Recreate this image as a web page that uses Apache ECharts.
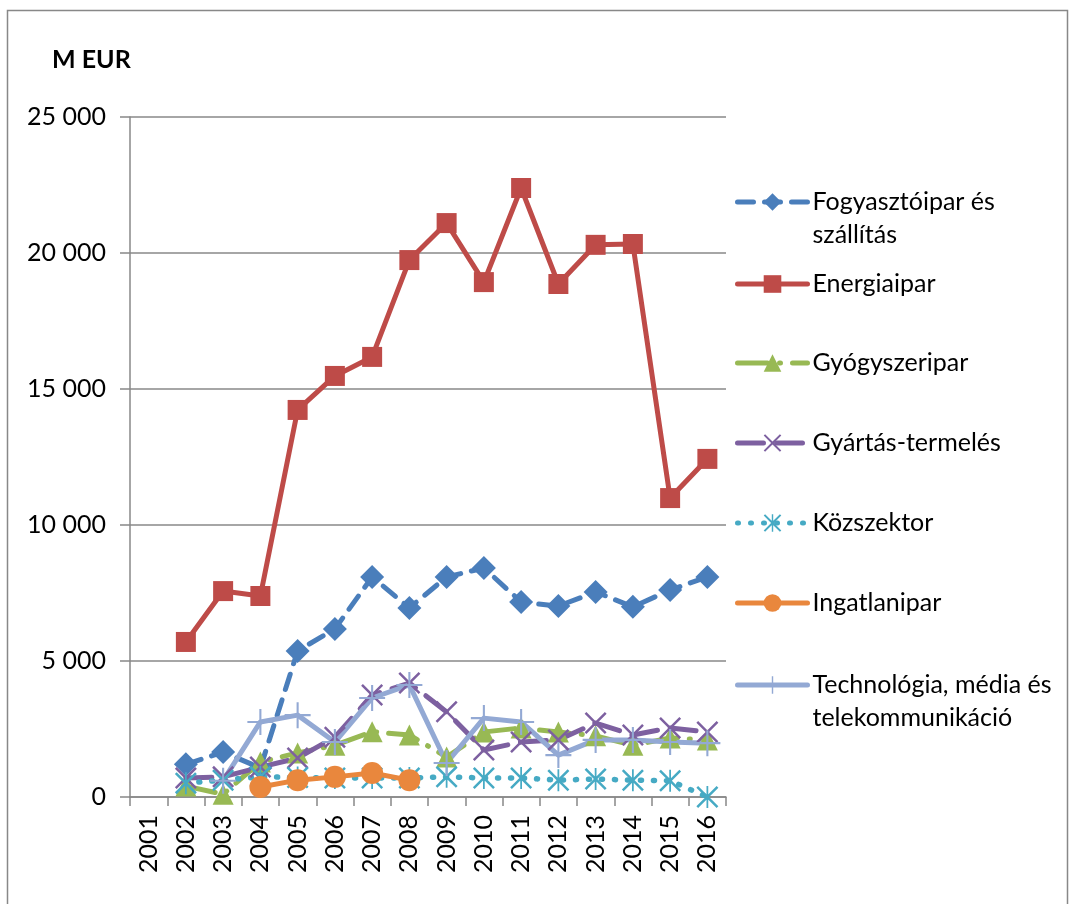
<!DOCTYPE html>
<html>
<head>
<meta charset="utf-8">
<script src="https://cdn.jsdelivr.net/npm/echarts@6/dist/echarts.min.js"></script>
<style>
  html, body { margin: 0; padding: 0; background: #fff; }
  #chart { width: 1071px; height: 904px; }
</style>
</head>
<body>
<div id="chart"></div>
<script>
// evek
var years = ["2001", "2002", "2003", "2004", "2005", "2006", "2007", "2008",
  "2009", "2010", "2011", "2012", "2013", "2014", "2015", "2016"];

var fogyasztoipar = [null, 1200, 1650, 1070, 5370, 6180, 8090, 6950, 8090, 8420, 7170, 7020, 7540, 6990, 7610, 8090];
var energiaipar = [null, 5700, 7570, 7390, 14230, 15480, 16180, 19740, 21100, 18930, 22390, 18860, 20300, 20330, 10990, 12430];
var gyogyszeripar = [null, 400, 100, 1290, 1620, 1900, 2400, 2280, 1470, 2390, 2540, 2390, 2250, 1900, 2170, 2100];
var gyartas = [null, 700, 740, 1100, 1430, 2200, 3750, 4190, 3130, 1730, 2020, 2100, 2720, 2280, 2540, 2390];
var kozszektor = [null, 510, 620, 740, 720, 700, 700, 700, 740, 700, 700, 620, 660, 620, 600, 0];
var ingatlanipar = [null, null, null, 370, 620, 740, 880, 620, null, null, null, null, null, null, null, null];
var technologia = [null, null, 600, 2760, 3010, 2020, 3640, 4120, 1250, 2900, 2760, 1540, 2100, 2100, 2020, 1980];

var yTicks = [0, 5000, 10000, 15000, 20000, 25000];

var seriesNames = ["Fogyasztóipar és szállítás", "Energiaipar", "Gyógyszeripar",
  "Gyártás-termelés", "Közszektor", "Ingatlanipar", "Technológia, média és telekommunikáció"];
// a ket soros felirat elso sora legyen a jel magassagaban
var legendLabels = ["\nFogyasztóipar és\nszállítás", "Energiaipar", "Gyógyszeripar",
  "Gyártás-termelés", "Közszektor", "Ingatlanipar", "\nTechnológia, média és\ntelekommunikáció"];

var crossPath = "path://M0,0.08 L0.08,0 L0.5,0.42 L0.92,0 L1,0.08 L0.58,0.5 L1,0.92 L0.92,1 L0.5,0.58 L0.08,1 L0,0.92 L0.42,0.5 Z";
var starPath = crossPath.replace(" Z", " Z M0.46,0 L0.54,0 L0.54,1 L0.46,1 Z");
var plusPath = "path://M0.46,0 L0.54,0 L0.54,0.46 L1,0.46 L1,0.54 L0.54,0.54 L0.54,1 L0.46,1 L0.46,0.54 L0,0.54 L0,0.46 L0.46,0.46 Z";

var font = "Lato, 'Noto Sans', sans-serif";

function fmt(v) {
  return String(v).replace(/\B(?=(\d{3})+(?!\d))/g, " ");
}

var chart = echarts.init(document.getElementById("chart"));

function line(name, data, color, dash, symbol, size, w) {
  return {
    name: name,
    type: "line",
    data: data,
    symbol: symbol,
    symbolSize: size,
    connectNulls: false,
    showAllSymbol: true,
    lineStyle: { color: color, width: w || 5, type: dash, cap: "round", join: "round" },
    itemStyle: { color: color },
    emphasis: { disabled: true },
    animation: false
  };
}

var legendTops = [202, 284, 363, 443, 523, 603, 685];
var legends = seriesNames.map(function (n, i) {
  var threeLines = legendLabels[i].indexOf("\n") >= 0;
  return {
    data: [n],
    left: 735,
    top: legendTops[i] - (threeLines ? 49.5 : 16.5),
    padding: 0,
    itemWidth: 70,
    itemHeight: 22,
    itemGap: 0,
    lineStyle: { width: 5 },
    formatter: function () { return legendLabels[i]; },
    textStyle: {
      fontFamily: font,
      fontSize: 25,
      color: "#000",
      lineHeight: 33
    }
  };
});

var options = {
  animation: false,
  graphic: [
    {
      type: "rect",
      shape: { x: 7.5, y: 10.5, width: 1060, height: 920 },
      style: { fill: "none", stroke: "#888", lineWidth: 1.5 },
      silent: true
    },
    {
      type: "text",
      left: 52,
      top: 47,
      style: { text: "M EUR", font: "bold 25px " + font, fill: "#000" }
    }
  ],
  legend: legends,
  grid: { left: 130, right: 345, top: 117, bottom: 107 },
  xAxis: {
    type: "category",
    data: years,
    boundaryGap: true,
    axisLine: { show: true, lineStyle: { color: "#888", width: 1.5 } },
    axisTick: { show: true, interval: 0, length: 9, lineStyle: { color: "#888", width: 1.5 } },
    axisLabel: { rotate: 90, interval: 0, fontSize: 25, fontFamily: font, color: "#000", margin: 18 },
    splitLine: { show: false }
  },
  yAxis: {
    type: "value",
    min: yTicks[0],
    max: yTicks[yTicks.length - 1],
    interval: yTicks[1] - yTicks[0],
    axisLine: { show: true, lineStyle: { color: "#888", width: 1.5 } },
    axisTick: { show: true, length: 10, lineStyle: { color: "#888", width: 1.5 } },
    axisLabel: { fontSize: 25, fontFamily: font, color: "#000", margin: 24, formatter: fmt },
    splitLine: { show: true, lineStyle: { color: "#888", width: 1.5 } }
  },
  series: [
    line(seriesNames[0], fogyasztoipar, "#4A7EBB", [16, 11], "diamond", 24),
    line(seriesNames[1], energiaipar, "#BE4B48", "solid", "rect", 20),
    line(seriesNames[2], gyogyszeripar, "#98B954", [30, 12, 1, 12], "triangle", 21),
    line(seriesNames[3], gyartas, "#7D60A0", [26, 13], crossPath, 22),
    line(seriesNames[4], kozszektor, "#46AAC4", [1, 12], starPath, 22, 5.5),
    line(seriesNames[5], ingatlanipar, "#E9873D", "solid", "circle", 22),
    line(seriesNames[6], technologia, "#93A9D4", "solid", plusPath, 26)
  ]
};

chart.setOption(options, true);
</script>
</body>
</html>
